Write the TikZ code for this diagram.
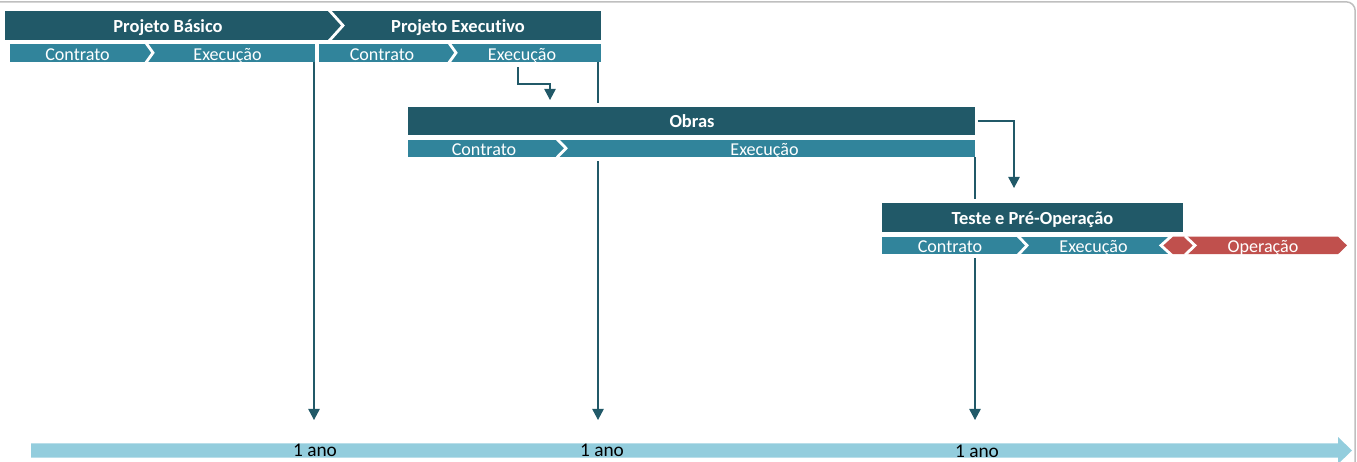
\documentclass[tikz,border=0pt]{standalone}
\usepackage{fontspec}
\setmainfont{Carlito}[Ligatures=NoCommon]
\usetikzlibrary{arrows.meta}
\definecolor{hdrc}{HTML}{215968}
\definecolor{subc}{HTML}{31849B}
\definecolor{redc}{HTML}{C0504D}
\definecolor{axisc}{HTML}{93CDDD}
\definecolor{linec}{HTML}{215968}
\definecolor{framec}{HTML}{BFBFBF}
\begin{document}
\begin{tikzpicture}[x=0.02cm,y=-0.02cm,
  bar/.style={inner sep=0pt,outer sep=0pt,draw=none},
  hdrbar/.style={bar,fill=hdrc,minimum height=0.57cm},
  subbar/.style={bar,fill=subc,minimum height=0.35cm},
  hdrtxt/.style={text=white,font=\bfseries\fontsize{10.5}{12}\selectfont,inner sep=0pt,anchor=base},
  subtxt/.style={text=white,font=\fontsize{10.3}{12}\selectfont,inner sep=0pt,anchor=base},
  yeartxt/.style={text=black,font=\fontsize{11}{13}\selectfont,inner sep=0pt,anchor=base},
  chev/.style={draw=white,line width=1.6pt,miter limit=10},
  conn/.style={draw=linec,line width=0.75pt,-{Triangle[width=6.6pt,length=6.4pt]}},
  whiteout/.style={fill=white,draw=none},
]
\useasboundingbox (0,0) rectangle (1357,461);
% frame
\draw[framec,line width=0.85pt,rounded corners=0.18cm] (0,1.8) -- (1355.2,1.8) -- (1355.2,475);
% time axis
\fill[axisc] (31,443.3) -- (1338,443.3) -- (1338,437) -- (1352,450.5) -- (1338,464) -- (1338,457.7) -- (31,457.7) -- cycle;
\coordinate (t1) at (314,420);
\coordinate (t2) at (598,420);
\coordinate (t3) at (975,420);
\node[yeartxt] (y1) at (315,456.5) {1 ano};
\node[yeartxt] (y2) at (602,456.5) {1 ano};
\node[yeartxt] (y3) at (977,457) {1 ano};

% Projeto Basico / Executivo
\node[hdrbar,minimum width=11.92cm] (hb) at (303,25.5) {};
\draw[chev] (329,10) -- (343,25.5) -- (329,41);
\node[hdrtxt] (pbt) at (168,32.5) {Projeto Básico};
\node[hdrtxt] (pet) at (458,32.5) {Projeto Executivo};
\node[subbar,minimum width=6.10cm] (sb1) at (162.5,52.75) {};
\node[subbar,minimum width=5.64cm] (sb2) at (460,52.75) {};
\draw[chev] (146,43) -- (153,52.75) -- (146,62.5);
\draw[chev] (449,43) -- (456,52.75) -- (449,62.5);
\node[subtxt] (c1) at (77.5,60) {Contrato};
\node[subtxt] (x1) at (227.5,60) {Execução};
\node[subtxt] (c2) at (382,60) {Contrato};
\node[subtxt] (x2) at (522,60) {Execução};

% long connectors to the axis
\draw[conn] (sb1.south east -| t1) -- (t1);
\draw[conn] (sb2.south east -| t2) -- (t2);

% Obras
\fill[whiteout] (403,103) rectangle (980,161);
\node[hdrbar,minimum width=11.34cm] (ob) at (691.5,121) {};
\node[hdrtxt] (obt) at (692,127.5) {Obras};
\node[subbar,minimum width=11.34cm] (osb) at (691.5,148.25) {};
\draw[chev] (557,139) -- (566,148.25) -- (557,157.5);
\node[subtxt] (c3) at (484,155.3) {Contrato};
\node[subtxt] (x3) at (764.5,155.3) {Execução};
\coordinate (e1) at (518,67);
\coordinate (e1end) at (550,100);
\draw[conn] (e1) |- (550,84) -- (e1end);
\coordinate (e2end) at (1014,188);
\draw[conn] ([xshift=0.06cm]ob.east) -| (e2end);
\draw[conn] (osb.south east -| t3) -- (t3);

% Teste e Pre-Operacao
\fill[whiteout] (878,199) rectangle (1352,258);
\node[hdrbar,minimum width=6.02cm] (tb) at (1032.5,217.5) {};
\node[hdrtxt] (tt) at (1032.5,224.3) {Teste e Pré-Operação};
\node[subbar,minimum width=5.80cm] (tsb) at (1027,245.45) {};
\draw[chev] (1018,236) -- (1027,245.45) -- (1018,255);
\fill[redc] (1162,245.45) -- (1171,236.7) -- (1338,236.7) -- (1347,245.45) -- (1338,254.2) -- (1171,254.2) -- cycle;
\draw[chev] (1172,235.5) -- (1161,245.45) -- (1172,255.4);
\draw[chev] (1185,236) -- (1195,245.45) -- (1185,255);
\node[subtxt] (c4) at (950,252.3) {Contrato};
\node[subtxt] (x4) at (1093.5,252.3) {Execução};
\node[subtxt] (opt) at (1263,252.3) {Operação};
\end{tikzpicture}
\end{document}
